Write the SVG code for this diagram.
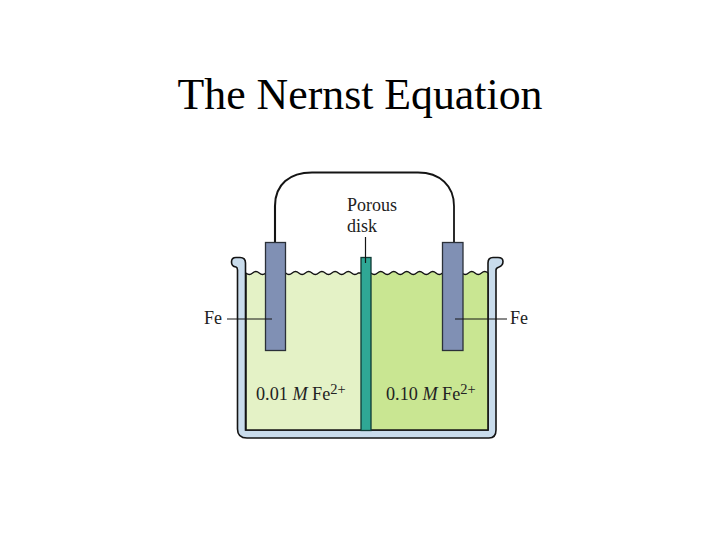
<svg xmlns="http://www.w3.org/2000/svg" width="720" height="540" viewBox="0 0 720 540">
<style>
text{font-family:"Liberation Serif","Times New Roman",serif;fill:#222}
.l{font-size:18px}
.s{font-size:18.200px}
.sup{font-size:14.500px}
.e{fill:#8090b4;stroke:#2a3038;stroke-width:1.300}
.k{fill:none;stroke:#141414}
</style>
<rect width="720" height="540" fill="#fff"/>
<text x="360" y="109" text-anchor="middle" style="font-size:43.800px;fill:#000">The Nernst Equation</text>
<g id="beaker">
<path d="M245.500 272 L245.500 263 Q245.500 257.500 240 257.500 L236 257.500 Q231.500 257.500 231.500 262 Q231.500 266.500 236 267 Q237.500 267.500 237.500 270 L237.500 429 Q237.500 438 247 438 L489 438 Q496 438 496 430 L496 270 Q496 268 499 267 Q503 265.500 503 261.500 Q503 257.500 498 257.500 L493 257.500 Q488 257.500 488 263 L488 272 L488 430 L245.500 430 Z" fill="#c9dcec" stroke="#141414" stroke-width="1.600"/>
</g>
<g id="left-solution">
<path d="M246 273 q3.300 3 6.600 0 t6.600 0 t6.600 0 t6.600 0 t6.600 0 t6.600 0 t6.600 0 t6.600 0 t6.600 0 t6.600 0 t6.600 0 t6.600 0 t6.600 0 t6.600 0 t6.600 0 t6.600 0 t6.600 0 L361 273 L361 430 L246 430 Z" fill="#e4f2c6"/>
</g>
<g id="right-solution">
<path d="M371 273 q3.250 3 6.500 0 t6.500 0 t6.500 0 t6.500 0 t6.500 0 t6.500 0 t6.500 0 t6.500 0 t6.500 0 t6.500 0 t6.500 0 t6.500 0 t6.500 0 t6.500 0 t6.500 0 t6.500 0 t6.500 0 t6.500 0 L488 430 L371 430 Z" fill="#c9e692"/>
</g>
<g id="connectors">
<path class="k" stroke-width="1.300" d="M246 273 q3.300 3 6.600 0 t6.600 0 t6.600 0 t6.600 0 t6.600 0 t6.600 0 t6.600 0 t6.600 0 t6.600 0 t6.600 0 t6.600 0 t6.600 0 t6.600 0 t6.600 0 t6.600 0 t6.600 0 t6.600 0 L361 273"/>
<path class="k" stroke-width="1.300" d="M371 273 q3.250 3 6.500 0 t6.500 0 t6.500 0 t6.500 0 t6.500 0 t6.500 0 t6.500 0 t6.500 0 t6.500 0 t6.500 0 t6.500 0 t6.500 0 t6.500 0 t6.500 0 t6.500 0 t6.500 0 t6.500 0 t6.500 0"/>
<path class="k" d="M246 273 L246 430 L488 430 L488 273" stroke-width="1.600"/>
<path class="k" stroke-width="2.100" d="M275 242 L275 206 C275 184 290 172.500 312 172.500 L365 172.500"/>
<path class="k" stroke-width="1.800" d="M365 172.500 L418 172.500 C440 172.500 454 186 454 206 L454 242"/>
</g>
<g id="left-electrode"><rect class="e" x="265.500" y="242.500" width="20" height="108"/></g>
<g id="right-electrode"><rect class="e" x="442.500" y="242.500" width="20.500" height="108"/></g>
<g id="porous-disk"><rect x="361" y="257.500" width="10" height="173" fill="#2fa795" stroke="#0f3a34" stroke-width="1.300"/></g>
<g id="label-lines">
<path class="k" stroke-width="1.200" d="M365.500 237 L365.500 263 M227 319 L272 319 M455 319 L507 319"/>
</g>
<g id="labels">
<text class="l" x="347" y="211">Porous</text>
<text class="l" x="347" y="232">disk</text>
<text class="l" x="204" y="324">Fe</text>
<text class="l" x="510" y="324">Fe</text>
<text class="s" x="256" y="400">0.01 <tspan font-style="italic">M</tspan> Fe<tspan class="sup" dy="-6">2+</tspan></text>
<text class="s" x="386" y="400">0.10 <tspan font-style="italic">M</tspan> Fe<tspan class="sup" dy="-6">2+</tspan></text>
</g>
</svg>
